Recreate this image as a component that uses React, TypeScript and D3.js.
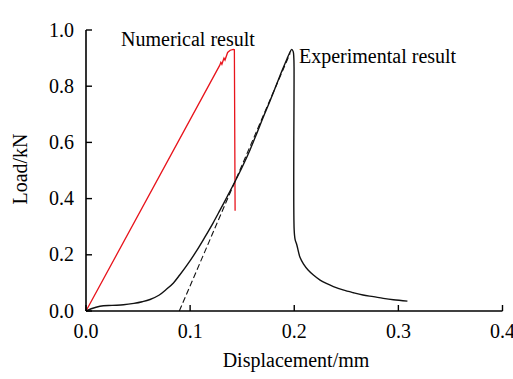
import React from "react";
import * as d3 from "d3";

const xTicks = [0, 0.1, 0.2, 0.3, 0.4];
const yTicks = [0, 0.2, 0.4, 0.6, 0.8, 1.0];

const numDisp = [0, 0.1285, 0.1295, 0.1305, 0.1325, 0.1335, 0.136, 0.1385, 0.1415, 0.1425, 0.1432];
const numLoad = [0, 0.875, 0.885, 0.878, 0.9, 0.893, 0.92, 0.928, 0.931, 0.93, 0.357];

const expDisp = [0, 0.005, 0.0134, 0.025, 0.036, 0.046, 0.054, 0.0615, 0.07, 0.0775, 0.084, 0.09, 0.097, 0.106, 0.114, 0.122, 0.1287, 0.136, 0.143, 0.1505, 0.1575, 0.164, 0.17, 0.177, 0.183, 0.188, 0.193, 0.1955, 0.1976, 0.199, 0.1996, 0.1998, 0.1999, 0.2008, 0.2025, 0.2056, 0.2088, 0.2135, 0.2184, 0.2248, 0.2308, 0.2376, 0.2468, 0.2568, 0.266, 0.276, 0.2855, 0.2952, 0.3087];
const expLoad = [0, 0.008, 0.017, 0.02, 0.022, 0.027, 0.033, 0.041, 0.056, 0.078, 0.1, 0.128, 0.163, 0.213, 0.262, 0.313, 0.359, 0.41, 0.46, 0.516, 0.573, 0.632, 0.688, 0.75, 0.806, 0.853, 0.897, 0.918, 0.931, 0.923, 0.9, 0.869, 0.29, 0.255, 0.235, 0.19, 0.168, 0.145, 0.128, 0.11, 0.098, 0.087, 0.075, 0.065, 0.057, 0.051, 0.045, 0.04, 0.035];

const tanDisp = [0.0896, 0.196];
const tanLoad = [0, 0.917];

const xLabel = "Displacement/mm";
const yLabel = "Load/kN";
const numLabel = "Numerical result";
const expLabel = "Experimental result";

export default function App() {
  const W = 513, H = 379;
  const x = d3.scaleLinear().domain([0, 0.4]).range([86, 502.5]);
  const y = d3.scaleLinear().domain([0, 1.0]).range([311, 30]);
  const font = "'Liberation Serif', 'Times New Roman', serif";

  const line = d3.line<[number, number]>().x(d => x(d[0])).y(d => y(d[1]));
  const smooth = d3.line<[number, number]>().x(d => x(d[0])).y(d => y(d[1])).curve(d3.curveCatmullRom.alpha(0.5));

  const numPts = numDisp.map((d, i) => [d, numLoad[i]] as [number, number]);
  const expPts = expDisp.map((d, i) => [d, expLoad[i]] as [number, number]);
  const tanPts = tanDisp.map((d, i) => [d, tanLoad[i]] as [number, number]);

  return (
    <svg width={W} height={H} style={{ position: "absolute", left: 0, top: 0 }}>
      <rect width={W} height={H} fill="#fff" />
      <path d={line(numPts) || ""} fill="none" stroke="#e8141c" strokeWidth={1.3} />
      <path d={smooth(expPts) || ""} fill="none" stroke="#111" strokeWidth={1.4} strokeLinejoin="round" />
      <path d={line(tanPts) || ""} fill="none" stroke="#111" strokeWidth={1.1} strokeDasharray="6,3" />
      <line x1={x(0)} x2={x(0.4)} y1={y(0)} y2={y(0)} stroke="#000" strokeWidth={1.6} />
      <line x1={x(0)} x2={x(0)} y1={y(0)} y2={y(1)} stroke="#000" strokeWidth={1.6} />
      {xTicks.map(t => (
        <g key={"x" + t}>
          <line x1={x(t)} x2={x(t)} y1={y(0)} y2={y(0) - 6} stroke="#000" strokeWidth={1.4} />
          <text x={x(t)} y={338} textAnchor="middle" fontFamily={font} fontSize={20} fill="#000">{t.toFixed(1)}</text>
        </g>
      ))}
      {yTicks.map(t => (
        <g key={"y" + t}>
          <line x1={x(0)} x2={x(0) + 6} y1={y(t)} y2={y(t)} stroke="#000" strokeWidth={1.4} />
          <text x={74} y={y(t) + 6.5} textAnchor="end" fontFamily={font} fontSize={20} fill="#000">{t.toFixed(1)}</text>
        </g>
      ))}
      <text x={296} y={367} textAnchor="middle" fontFamily={font} fontSize={20} fill="#000">{xLabel}</text>
      <text transform={`translate(27,169) rotate(-90)`} textAnchor="middle" fontFamily={font} fontSize={20} fill="#000">{yLabel}</text>
      <text x={121} y={46} fontFamily={font} fontSize={20} fill="#000">{numLabel}</text>
      <text x={299} y={63} fontFamily={font} fontSize={20} fill="#000">{expLabel}</text>
    </svg>
  );
}
